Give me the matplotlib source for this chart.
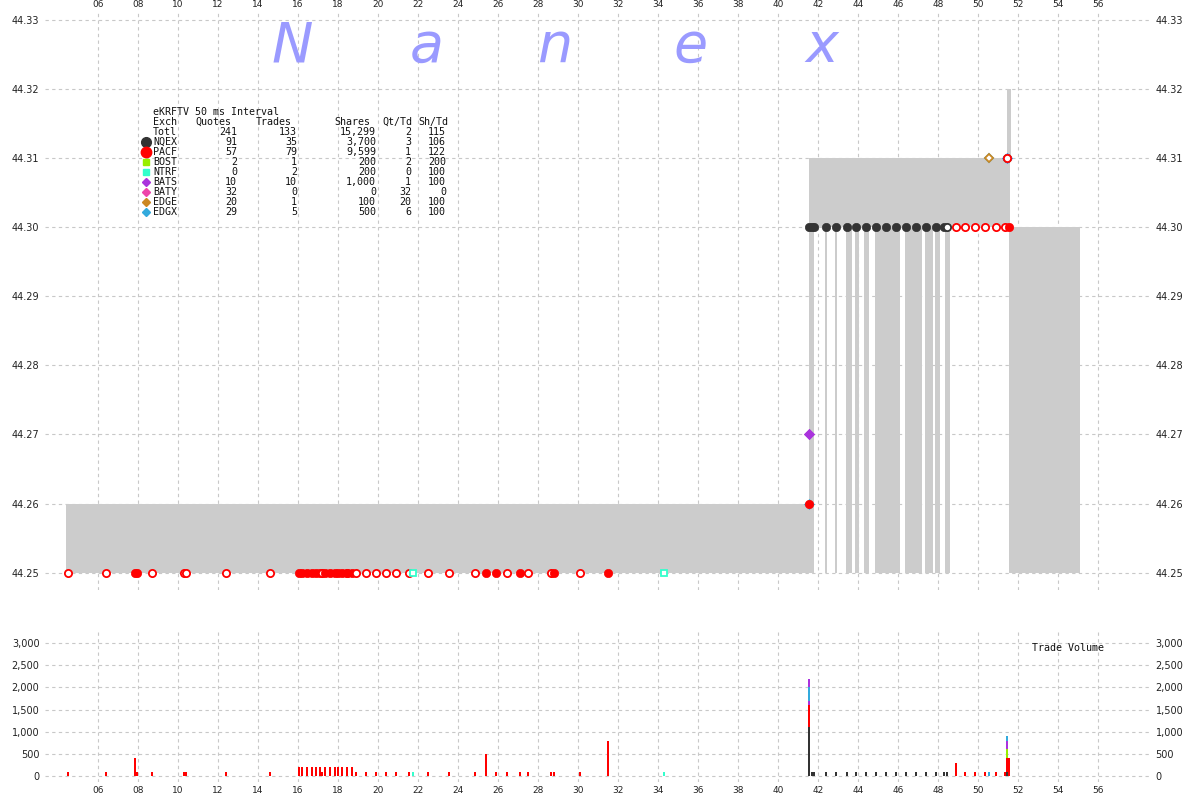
import matplotlib
matplotlib.use('Agg')
import matplotlib.pyplot as plt

# ---------------- data ----------------
x_ticks = list(range(6, 57, 2))
price_ticks = [44.25, 44.26, 44.27, 44.28, 44.29, 44.30, 44.31, 44.32, 44.33]
vol_ticks = [0, 500, 1000, 1500, 2000, 2500, 3000]

# bid/ask spread shading (start s, end s, low price, high price)
spread_t0 = [4.4, 41.55, 41.55, 42.35, 42.85, 43.40, 43.85, 44.30, 44.85, 46.35, 47.35, 47.85, 48.35, 51.43, 51.55]
spread_t1 = [41.55, 41.80, 51.60, 42.45, 42.95, 43.70, 44.05, 44.55, 46.10, 47.20, 47.75, 48.10, 48.60, 51.65, 55.10]
spread_lo = [44.25, 44.25, 44.30, 44.25, 44.25, 44.25, 44.25, 44.25, 44.25, 44.25, 44.25, 44.25, 44.25, 44.31, 44.25]
spread_hi = [44.26, 44.31, 44.31, 44.30, 44.30, 44.30, 44.30, 44.30, 44.30, 44.30, 44.30, 44.30, 44.30, 44.32, 44.30]

# trades
trade_t = [4.5, 6.4, 7.85, 7.95, 8.7, 10.3, 10.4, 12.4, 14.6,
           16.05, 16.2, 16.45, 16.72, 16.9, 17.1, 17.2, 17.37, 17.62, 17.85, 18.02, 18.22, 18.43, 18.47, 18.72,
           18.9, 19.4, 19.9, 20.4, 20.9, 21.55, 21.75, 22.48, 23.55, 24.85, 25.4, 25.9, 26.45, 27.1, 27.5,
           28.65, 28.8, 30.1, 31.5, 34.3,
           41.57, 41.57, 41.57, 41.57, 41.57, 41.7, 41.78,
           42.38, 42.88, 43.43, 43.88, 44.38, 44.88, 45.38, 45.88, 46.38, 46.88, 47.38, 47.88, 48.32, 48.45,
           48.88, 49.37, 49.87, 50.37, 50.53, 50.57, 50.88, 51.36,
           51.47, 51.47, 51.47, 51.47, 51.47, 51.57]
trade_ex = ['PACF'] * 30 + ['NTRF'] + ['PACF'] * 12 + ['NTRF'] + \
           ['NQEX', 'PACF', 'BATS', 'EDGX', 'BATS', 'NQEX', 'NQEX'] + \
           ['NQEX'] * 14 + \
           ['PACF', 'PACF', 'PACF', 'PACF', 'EDGE', 'EDGX', 'PACF', 'PACF'] + \
           ['NQEX', 'PACF', 'BOST', 'BATS', 'EDGX', 'PACF']
trade_px = [44.25] * 44 + \
           [44.30, 44.26, 44.27, 44.26, 44.27, 44.30, 44.30] + \
           [44.30] * 14 + \
           [44.30, 44.30, 44.30, 44.30, 44.31, 44.31, 44.30, 44.30] + \
           [44.31, 44.31, 44.31, 44.31, 44.31, 44.30]
trade_sz = [100, 100, 400, 100, 100, 100, 100, 100, 100,
            200, 200, 200, 200, 200, 200, 100, 200, 200, 200, 200, 200, 100, 200, 200,
            100, 100, 100, 100, 100, 100, 100, 100, 100, 100, 500, 100, 100, 100, 100,
            100, 100, 100, 800, 100,
            1100, 500, 100, 300, 200, 100, 100,
            100, 100, 100, 100, 100, 100, 100, 100, 100, 100, 100, 100, 100, 100,
            300, 100, 100, 100, 100, 100, 100, 100,
            100, 300, 200, 200, 100, 400]
trade_open = [1, 1, 0, 0, 1, 1, 1, 1, 1,
              0, 0, 0, 0, 0, 0, 1, 0, 0, 0, 0, 0, 0, 0, 0,
              1, 1, 1, 1, 1, 1, 1, 1, 1, 1, 0, 0, 1, 0, 1,
              1, 0, 1, 0, 1,
              0, 0, 0, 0, 0, 0, 0,
              0, 0, 0, 0, 0, 0, 0, 0, 0, 0, 0, 0, 0, 1,
              1, 1, 1, 1, 1, 1, 1, 1,
              0, 1, 0, 0, 0, 0]

# summary table
leg_exch = ['Totl', 'NQEX', 'PACF', 'BOST', 'NTRF', 'BATS', 'BATY', 'EDGE', 'EDGX']
leg_quotes = [241, 91, 57, 2, 0, 10, 32, 20, 29]
leg_trades = [133, 35, 79, 1, 2, 10, 0, 1, 5]
leg_shares = [15299, 3700, 9599, 200, 200, 1000, 0, 100, 500]
leg_qt = [2, 3, 1, 2, 0, 1, 32, 20, 6]
leg_sh = [115, 106, 122, 200, 100, 100, 0, 100, 100]

# ---------------- style ----------------
ex_color = {'NQEX': '#333333', 'PACF': '#ff0000', 'BOST': '#99ee00', 'NTRF': '#33ffcc',
            'BATS': '#aa33dd', 'BATY': '#ee44aa', 'EDGE': '#cc8822', 'EDGX': '#33aadd'}
ex_marker = {'NQEX': 'o', 'PACF': 'o', 'BOST': 's', 'NTRF': 's',
             'BATS': 'D', 'BATY': 'D', 'EDGE': 'D', 'EDGX': 'D'}
ex_ms = {'o': 6.0, 's': 5.0, 'D': 5.0}
draw_order = ['NQEX', 'BOST', 'BATS', 'BATY', 'EDGX', 'EDGE', 'PACF', 'NTRF']

W, H = 1200, 800
fig = plt.figure(figsize=(12, 8), dpi=100)
fig.patch.set_facecolor('white')

def fx(px):
    return px / W

def fy(py):
    return 1 - py / H

L, R = 45, 1150
ax = fig.add_axes([fx(L), fy(590), (R - L) / W, (590 - 10) / H])
axv = fig.add_axes([fx(L), fy(782), (R - L) / W, (782 - 632) / H])

XMIN, XMAX = 3.35, 58.6
ax.set_xlim(XMIN, XMAX)
ax.set_ylim(44.2475, 44.3314)
axv.set_xlim(XMIN, XMAX)
axv.set_ylim(-135, 3250)

grid_kw = dict(color='#c8c8c8', linestyle=(0, (3, 3)), linewidth=0.8)
for a in (ax, axv):
    a.set_axisbelow(True)
    a.grid(True, **grid_kw)
    for s in a.spines.values():
        s.set_visible(False)
    a.set_xticks(x_ticks)
    a.set_xticklabels(['%02d' % t for t in x_ticks])

ax.set_yticks(price_ticks)
ax.set_yticklabels(['%.2f' % p for p in price_ticks])
axv.set_yticks(vol_ticks)
axv.set_yticklabels(['{:,}'.format(v) for v in vol_ticks])

ax.tick_params(axis='x', length=0, labeltop=True, labelbottom=False, labelsize=6.5, pad=1,
               labelcolor='#222222')
axv.tick_params(axis='x', length=0, labeltop=False, labelbottom=True, labelsize=6.5, pad=3,
                labelcolor='#222222')
for a in (ax, axv):
    a.tick_params(axis='y', length=0, labelleft=True, labelright=True, labelsize=7, pad=4,
                  labelcolor='#222222')

# spread shading
for t0, t1, lo, hi in zip(spread_t0, spread_t1, spread_lo, spread_hi):
    ax.fill_between([t0, t1], [lo, lo], [hi, hi], color='#cccccc', linewidth=0, zorder=1)

# trade markers
for ex in draw_order:
    for t, e, p, o in zip(trade_t, trade_ex, trade_px, trade_open):
        if e != ex:
            continue
        m = ex_marker[e]
        c = ex_color[e]
        if o:
            ax.plot([t], [p], marker=m, ms=ex_ms[m] - 0.8, mfc='white', mec=c, mew=1.3,
                    linestyle='none', zorder=3)
        else:
            ax.plot([t], [p], marker=m, ms=ex_ms[m], mfc=c, mec=c, mew=0.5,
                    linestyle='none', zorder=3)

# volume bars (stacked per time)
bottoms = {}
for t, e, s in zip(trade_t, trade_ex, trade_sz):
    key = round(t, 3)
    b = bottoms.get(key, 0)
    axv.bar(t, s, bottom=b, width=0.1, color=ex_color[e], linewidth=0, zorder=2)
    bottoms[key] = b + s

fig.text(fx(1032), fy(648), 'Trade Volume', family='DejaVu Sans Mono', size=7.2,
         va='center', ha='left', color='#111111')

# watermark
for ch, xp in zip('Nanex', [292, 427, 555, 691, 822]):
    fig.text(fx(xp), fy(62), ch, size=40, style='italic', color='#9a9aff',
             ha='center', va='baseline', family='DejaVu Sans')

# summary table
mono = dict(family='DejaVu Sans Mono', size=7.2, va='center', color='#111111')
fig.text(fx(153), fy(112), 'eKRFTV 50 ms Interval', ha='left', **mono)
for txt, xp in zip(['Exch', 'Quotes', 'Trades', 'Shares', 'Qt/Td', 'Sh/Td'],
                   [153, 195, 256, 334, 382, 418]):
    fig.text(fx(xp), fy(122), txt, ha='left', **mono)
cols_r = [237, 297, 376, 411, 446]
for i, ex in enumerate(leg_exch):
    yp = 132 + 10 * i
    fig.text(fx(153), fy(yp), ex, ha='left', **mono)
    vals = [leg_quotes[i], leg_trades[i], leg_shares[i], leg_qt[i], leg_sh[i]]
    for v, xr in zip(vals, cols_r):
        fig.text(fx(xr), fy(yp), '{:,}'.format(v), ha='right', **mono)
    if ex in ex_color:
        m = ex_marker[ex]
        ms = {'o': 7.0, 's': 4.0, 'D': 4.5}[m]
        if ex == 'PACF':
            ms = 7.5
        fig.add_artist(plt.Line2D([fx(146)], [fy(yp)], marker=m, ms=ms, mfc=ex_color[ex],
                                  mec=ex_color[ex], linestyle='none', transform=fig.transFigure))

fig.savefig('out.png', dpi=100, facecolor='white')
